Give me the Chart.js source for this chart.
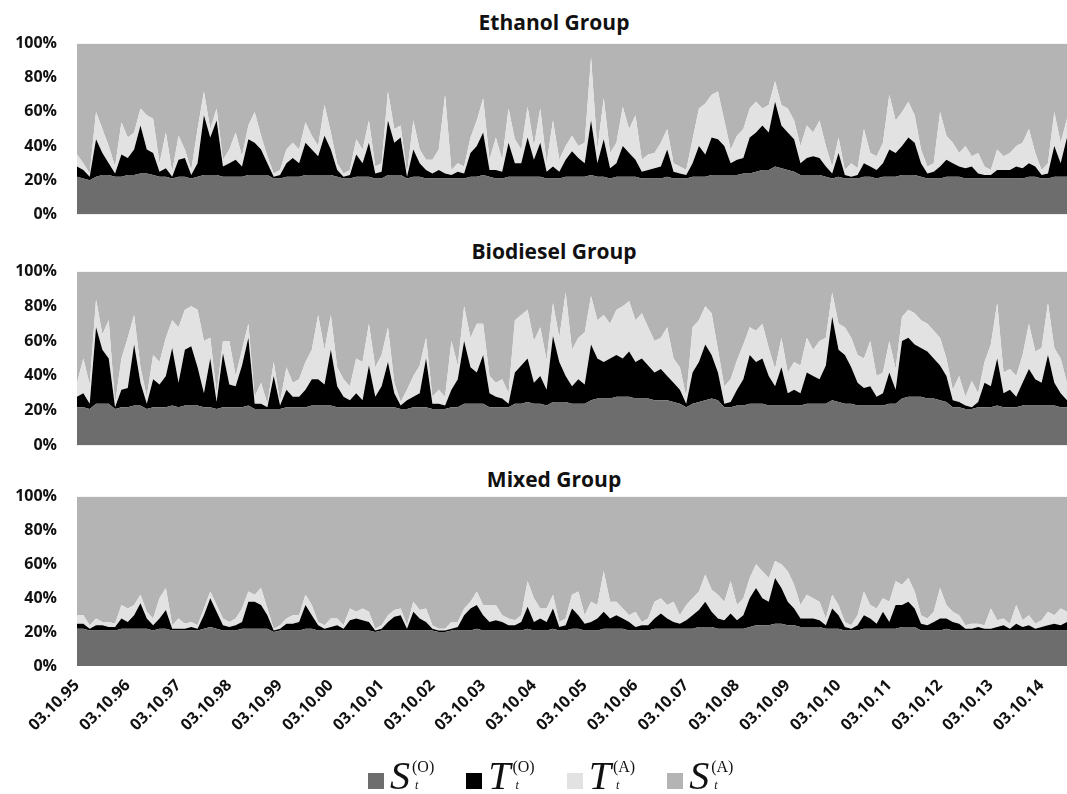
<!DOCTYPE html>
<html lang="en">
<head>
<meta charset="UTF-8">
<title>Ethanol, Biodiesel and Mixed Group</title>
<script src="https://cdn.jsdelivr.net/npm/chart.js"></script>
<style>
    body { margin: 0; background: #fff; width: 1067px; height: 794px; position: relative; overflow: hidden; font-family: "Open Sans", sans-serif; }
    canvas { position: absolute; left: 0; }
    .title { position: absolute; left: 0; width: 1108px; text-align: center; font-weight: bold; font-size: 21px; line-height: 1; color: #111; }
    #legend { position: absolute; left: 368px; top: 752px; display: flex; align-items: center; }
    .item { display: flex; align-items: center; margin-right: 32px; }
    .box { width: 16px; height: 16px; margin-right: 6px; margin-top: 10px; }
    .sym { font-family: "Liberation Serif", serif; font-style: italic; font-size: 40px; color: #111; }
    .scripts { display: inline-flex; flex-direction: column; font-family: "Liberation Serif", serif; font-size: 16px; line-height: 1.05; margin-left: 2px; color: #111; }
    .scripts i { font-size: 12px; padding-left: 3px; margin-top: 3px; }
</style>
</head>
<body>

<div class="title" style="top:12px">Ethanol Group</div>
<div class="title" style="top:241px">Biodiesel Group</div>
<div class="title" style="top:469px">Mixed Group</div>

<canvas id="ethanolChart" width="1067" height="230" style="top:14px"></canvas>
<canvas id="biodieselChart" width="1067" height="233" style="top:242px"></canvas>
<canvas id="mixedChart" width="1067" height="289" style="top:467px"></canvas>

<div id="legend"></div>

<script>
    // one tick label per year, 8 observations per year
    const yearLabels = ['03.10.95', '03.10.96', '03.10.97', '03.10.98', '03.10.99', '03.10.00', '03.10.01',
        '03.10.02', '03.10.03', '03.10.04', '03.10.05', '03.10.06', '03.10.07', '03.10.08', '03.10.09',
        '03.10.10', '03.10.11', '03.10.12', '03.10.13', '03.10.14'];
    const pointsPerYear = 8;

    // Ethanol group (% shares)
    const ethanolSO = [
        22,21,20,22,23,23,22,22, 23,23,24,24,23,22,22,21, 22,22,21,22,23,23,23,22, 22,22,22,23,23,23,23,21,
        21,22,22,22,23,23,23,23, 23,22,21,21,22,22,22,21, 21,23,23,23,21,22,22,21, 21,21,21,21,21,21,22,22,
        23,22,21,21,22,22,22,22, 22,22,21,21,21,22,22,22, 22,23,22,22,21,22,22,22, 22,21,21,21,21,22,21,21,
        21,22,22,22,23,23,23,23, 23,24,24,25,26,26,28,27, 26,25,23,23,23,23,22,21, 22,21,21,21,22,22,21,22,
        22,22,23,23,23,22,21,21, 21,22,22,22,21,21,21,21, 21,21,21,21,21,21,22,22, 21,21,22,22,22];
    const ethanolTO = [
        6,5,2,22,13,7,2,13, 10,15,28,14,13,3,5,1, 10,11,2,8,35,22,32,6, 8,10,6,21,19,15,7,1,
        2,8,11,8,19,15,11,23, 15,4,1,2,13,8,20,3, 4,32,19,22,1,16,8,5, 3,5,3,2,4,3,14,18,
        25,4,5,4,20,8,8,23, 10,20,4,7,4,10,15,11, 8,32,8,22,6,8,18,14, 10,4,5,6,7,16,4,3,
        2,8,18,13,22,21,17,7, 9,9,21,23,26,22,38,25, 22,19,7,10,11,10,6,3, 14,2,1,2,8,6,5,8,
        16,14,17,22,19,8,3,4, 7,10,8,6,6,7,3,2, 2,5,5,5,7,6,8,6, 2,3,18,8,23];
    const ethanolTA = [
        7,4,2,16,14,10,4,19, 12,10,10,20,20,5,21,3, 14,5,3,20,14,5,7,4, 8,16,6,8,18,8,4,2,
        3,8,9,8,12,8,6,18, 10,4,2,3,9,8,13,4, 5,17,8,7,2,17,8,6, 8,12,46,3,5,4,9,15,
        20,6,19,7,20,14,8,18, 8,20,5,27,7,8,9,7, 12,37,8,24,9,12,23,14, 26,7,9,9,14,12,5,4,
        3,14,22,30,25,28,15,8, 14,17,17,18,10,16,12,12, 14,11,10,19,14,22,12,4, 9,3,8,4,20,8,8,12,
        32,19,20,21,16,8,4,5, 32,14,12,8,13,6,12,5, 3,12,8,10,12,15,20,8, 3,6,20,12,11];

    // Biodiesel group
    const biodieselSO = [
        22,22,21,24,24,24,21,22, 22,23,23,21,22,22,22,23, 22,23,23,23,22,22,21,22, 22,22,22,23,21,21,21,21,
        21,22,22,22,22,23,23,23, 23,22,22,22,22,22,22,22, 22,22,22,21,21,22,22,22, 21,21,21,22,22,24,24,24,
        24,22,22,22,22,24,24,25, 24,24,23,25,25,25,24,24, 24,26,27,27,27,28,28,28, 27,27,27,26,26,26,25,24,
        22,24,25,26,27,26,22,22, 23,23,24,24,24,23,23,23, 23,23,23,24,24,24,24,26, 25,24,24,23,23,23,23,23,
        24,24,27,28,28,28,27,27, 26,25,22,22,21,21,22,22, 22,23,22,22,22,23,23,23, 23,23,23,22,22];
    const biodieselTO = [
        6,8,3,44,31,26,1,10, 11,35,13,3,16,13,18,33, 14,32,34,22,8,28,4,31, 13,12,24,39,3,3,1,19,
        2,10,6,6,10,15,15,12, 32,12,6,4,8,4,24,6, 12,26,8,2,5,6,8,28, 3,3,2,10,16,36,21,18,
        28,8,6,5,2,18,22,25, 12,16,9,38,23,15,10,14, 11,32,23,21,23,24,22,26, 21,23,19,16,18,14,11,8,
        2,18,23,32,25,16,2,3, 9,15,28,24,26,17,11,22, 7,9,7,18,16,14,22,48, 30,28,21,13,10,11,5,7,
        18,8,33,34,30,28,27,23, 20,15,4,3,2,1,3,14, 12,27,8,10,6,13,21,15, 13,29,13,8,4];
    const biodieselTA = [
        8,20,11,16,9,22,2,18, 29,17,9,4,14,13,22,16, 32,23,23,33,30,12,5,7, 25,6,9,8,4,12,2,8,
        2,13,8,10,16,17,37,20, 20,11,10,8,20,22,24,17, 18,20,6,2,6,12,16,12, 4,8,5,28,8,20,17,28,
        18,10,8,11,6,30,29,28, 24,28,17,19,14,48,21,24, 30,28,22,27,20,26,30,29, 24,26,22,18,18,28,14,13,
        4,26,24,22,24,13,10,13, 17,20,16,18,20,16,10,17, 12,16,16,20,15,22,16,14, 15,16,17,16,17,26,12,12,
        18,12,14,16,18,16,16,16, 16,10,6,15,5,15,5,12, 24,32,12,12,12,16,26,16, 20,30,20,20,10];

    // Mixed group
    const mixedSO = [
        22,22,21,21,21,21,21,22, 22,22,22,22,21,22,22,21, 21,21,21,21,22,23,22,21, 21,21,22,22,22,22,22,20,
        21,21,21,21,22,22,21,21, 21,21,21,21,21,21,21,20, 21,21,21,21,21,21,21,21, 21,20,20,21,21,21,21,22,
        21,21,21,21,21,21,21,22, 21,21,21,22,21,21,22,22, 21,21,21,22,22,22,22,21, 21,21,21,22,22,22,22,22,
        22,22,23,23,23,22,22,22, 22,22,23,24,24,24,25,25, 24,24,23,23,23,23,22,22, 22,21,21,21,22,22,22,22,
        22,22,23,23,23,21,21,21, 21,22,21,21,21,21,21,21, 21,21,21,21,21,21,21,21, 21,21,21,21,21];
    const mixedTO = [
        3,3,1,3,3,2,2,6, 4,8,15,6,3,6,11,1, 1,1,2,1,8,17,10,3, 2,3,4,16,16,14,8,1,
        1,4,4,5,14,8,3,1, 2,3,1,6,7,6,5,1, 1,5,8,9,1,11,7,5, 1,1,1,1,2,9,13,14,
        9,5,6,5,3,3,5,13, 5,7,5,12,2,3,12,8, 4,5,7,10,6,8,6,5, 2,3,3,6,9,6,4,3,
        5,8,10,15,9,6,5,9, 5,8,17,22,16,14,27,21, 14,10,5,5,5,4,2,12, 8,2,1,3,8,6,3,10,
        4,14,13,15,11,4,3,5, 7,6,5,4,1,1,2,1, 1,2,3,1,4,2,3,1, 2,3,4,3,5];
    const mixedTA = [
        5,5,2,4,2,3,2,8, 8,6,5,4,4,12,13,2, 6,3,3,2,4,4,4,4, 3,4,8,6,4,10,4,1,
        2,3,5,4,6,6,2,2, 5,4,2,7,4,7,6,1, 2,4,4,4,2,6,5,8, 2,1,1,4,3,4,4,8,
        6,10,9,4,4,3,4,15, 14,6,8,8,3,4,8,14, 5,12,8,24,10,8,6,4, 9,2,4,10,9,8,12,5,
        9,10,11,16,13,14,11,19, 9,10,12,14,16,14,10,14, 18,14,8,14,12,11,4,8, 6,3,2,6,14,8,9,8,
        12,14,12,14,10,5,4,6, 18,8,6,5,2,3,2,2, 12,4,4,3,11,4,6,3, 4,8,5,10,6];

    const seriesSymbols = ['S', 'T', 'T', 'S'];
    const seriesSups = ['(O)', '(O)', '(A)', '(A)'];
    const seriesColors = ['#6d6d6d', '#000000', '#e2e2e2', '#b4b4b4'];

    const tickFont = { family: '"Open Sans", sans-serif', size: 16, weight: 'bold' };

    function makeChart(id, so, to, ta, showX) {
        // the outside share fills the rest up to 100%
        const sa = so.map((v, i) => 100 - v - to[i] - ta[i]);
        const parts = [so, to, ta, sa];
        const datasets = parts.map((arr, k) => ({
            label: seriesSymbols[k] + seriesSups[k],
            data: arr.map((v, i) => ({ x: i, y: v })),
            backgroundColor: seriesColors[k],
            borderWidth: 0,
            pointRadius: 0,
            fill: k === 0 ? 'origin' : '-1',
            tension: 0
        }));

        new Chart(document.getElementById(id), {
            type: 'line',
            data: { datasets: datasets },
            options: {
                responsive: false,
                animation: false,
                plugins: { legend: { display: false }, tooltip: { enabled: false } },
                scales: {
                    x: {
                        type: 'linear',
                        min: 0,
                        max: so.length - 1,
                        display: showX,
                        grid: { display: false },
                        border: { display: false },
                        afterBuildTicks: s => { s.ticks = yearLabels.map((_, k) => ({ value: k * pointsPerYear })); },
                        afterFit: s => { s.height = showX ? 90 : 0; },
                        ticks: {
                            autoSkip: false,
                            minRotation: 45,
                            maxRotation: 45,
                            padding: 2,
                            color: '#111',
                            font: tickFont,
                            callback: v => yearLabels[v / pointsPerYear]
                        }
                    },
                    y: {
                        stacked: true,
                        min: 0,
                        max: 100,
                        grid: { display: false, drawTicks: false },
                        border: { display: false },
                        afterFit: s => { s.width = 77; },
                        ticks: { stepSize: 20, padding: 20, color: '#111', font: tickFont, callback: v => v + '%' }
                    }
                }
            }
        });
    }

    makeChart('ethanolChart', ethanolSO, ethanolTO, ethanolTA, false);
    makeChart('biodieselChart', biodieselSO, biodieselTO, biodieselTA, false);
    makeChart('mixedChart', mixedSO, mixedTO, mixedTA, true);

    // legend with the math labels
    let legendHtml = '';
    seriesColors.forEach((c, k) => {
        legendHtml += `<div class="item"><div class="box" style="background:${c}"></div>` +
            `<span class="sym">${seriesSymbols[k]}</span>` +
            `<span class="scripts"><span>${seriesSups[k]}</span><i>t</i></span></div>`;
    });
    document.getElementById('legend').innerHTML = legendHtml;
</script>
</body>
</html>
